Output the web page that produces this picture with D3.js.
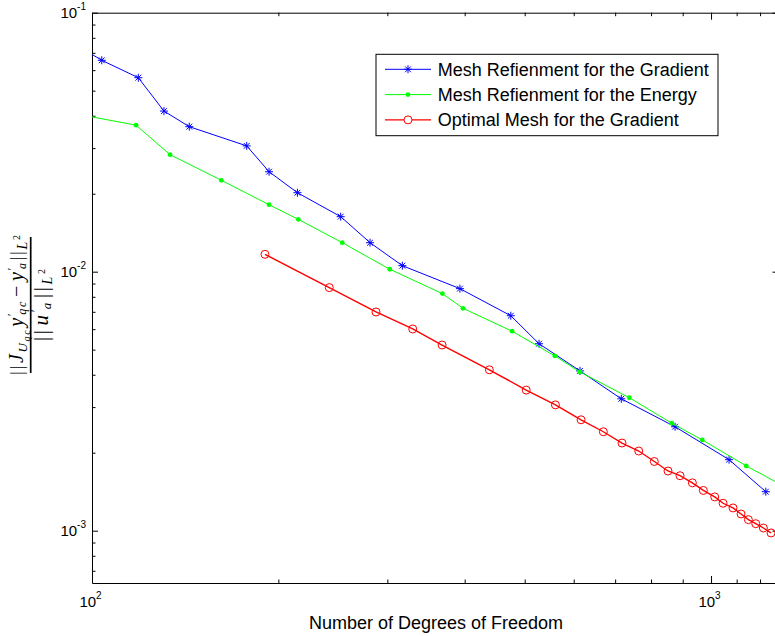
<!DOCTYPE html>
<html>
<head>
<meta charset="utf-8">
<script src="https://cdn.jsdelivr.net/npm/d3@7"></script>
<style>
  body { margin: 0; background: #fff; }
  svg { display: block; }
</style>
</head>
<body>
<div id="plot"></div>
<script>
// Values (degrees of freedom vs. relative error)
const gradDofs = [95, 103.7, 118.8, 130.7, 143.6, 177.8, 193.2, 214.7, 252.2, 281.3, 317.2, 393.0, 474.8, 527.4, 614.2, 716.2, 874.7, 1069.3, 1226];
const gradErr = [0.0743, 0.0655, 0.0561, 0.0417, 0.0363, 0.0306, 0.02432, 0.02018, 0.01631, 0.01294, 0.01055, 0.0086, 0.00676, 0.00527, 0.00414, 0.00323, 0.00252, 0.00188, 0.001414];

const energyDofs = [95, 117.8, 133.7, 161.8, 193.2, 215.4, 253.7, 302.7, 368.1, 397.5, 477.1, 559.3, 614.2, 738, 864.2, 968, 1140, 1350];
const energyErr = [0.0405, 0.0368, 0.0283, 0.02254, 0.01814, 0.01593, 0.01294, 0.01022, 0.00823, 0.00722, 0.00589, 0.00473, 0.0041, 0.00326, 0.0026, 0.00224, 0.001778, 0.00143];

const optDofs = [190.3, 241.7, 287.6, 329.7, 367.7, 438.4, 502.8, 560.6, 616.6, 669.9, 718.1, 764.2, 809.8, 852.1, 891.1, 932.9, 971.8, 1013.8, 1045.7, 1085.2, 1118.1, 1149, 1181, 1215, 1250];
const optErr = [0.01167, 0.00868, 0.00699, 0.00601, 0.00521, 0.00418, 0.00349, 0.00306, 0.00268, 0.00241, 0.00218, 0.00203, 0.00185, 0.0017, 0.00163, 0.00153, 0.00143, 0.00135, 0.001276, 0.001224, 0.00116, 0.001103, 0.001064, 0.001024, 0.00098];

const seriesNames = ["Mesh Refienment for the Gradient", "Mesh Refienment for the Energy", "Optimal Mesh for the Gradient"];

// Ticks
const xMajor = [100, 1000];
const xMajorExp = ["2", "3"];
const xMinor = [200, 300, 400, 500, 600, 700, 800, 900, 1100, 1200];
const yMajor = [0.1, 0.01, 0.001];
const yMajorExp = ["-1", "-2", "-3"];
const yMinor = [0.0007, 0.0008, 0.0009, 0.002, 0.003, 0.004, 0.005, 0.006, 0.007, 0.008, 0.009,
                0.02, 0.03, 0.04, 0.05, 0.06, 0.07, 0.08, 0.09];

const xTitle = "Number of Degrees of Freedom";

// Layout
const w = 775, h = 636;
const pLeft = 92, pRight = 779.5, pTop = 12.7, pBottom = 583;
const sansFont = "'Liberation Sans', Arial, Helvetica, sans-serif";
const serifFont = "'Liberation Serif', 'DejaVu Serif', 'Times New Roman', serif";

const svg = d3.select("#plot").append("svg")
  .attr("width", w)
  .attr("height", h);

svg.append("rect").attr("width", w).attr("height", h).attr("fill", "#fff");

// Scales
const x = d3.scaleLog().domain([100, 1290]).range([pLeft, pRight]);
const y = d3.scaleLog().domain([6.28e-4, 0.1]).range([pBottom, pTop]);

// Axes (ticks point inward, mirrored on top/right)
function styleAxis(sel) {
  sel.selectAll("path, line").attr("stroke", "#000").attr("stroke-width", 1);
  sel.selectAll("text").remove();
}

svg.append("g").attr("transform", `translate(0,${pBottom})`)
  .call(d3.axisBottom(x).tickValues(xMajor).tickSize(-7).tickSizeOuter(0).tickFormat(() => ""))
  .call(styleAxis);
svg.append("g").attr("transform", `translate(0,${pBottom})`)
  .call(d3.axisBottom(x).tickValues(xMinor).tickSize(-3.5).tickFormat(() => ""))
  .call(g => g.select(".domain").remove())
  .call(styleAxis);
svg.append("g").attr("transform", `translate(0,${pTop})`)
  .call(d3.axisTop(x).tickValues(xMajor).tickSize(-7).tickSizeOuter(0).tickFormat(() => ""))
  .call(styleAxis);
svg.append("g").attr("transform", `translate(0,${pTop})`)
  .call(d3.axisTop(x).tickValues(xMinor).tickSize(-3.5).tickFormat(() => ""))
  .call(g => g.select(".domain").remove())
  .call(styleAxis);

svg.append("g").attr("transform", `translate(${pLeft},0)`)
  .call(d3.axisLeft(y).tickValues(yMajor).tickSize(-6).tickSizeOuter(0).tickFormat(() => ""))
  .call(styleAxis);
svg.append("g").attr("transform", `translate(${pLeft},0)`)
  .call(d3.axisLeft(y).tickValues(yMinor).tickSize(-3.5).tickFormat(() => ""))
  .call(g => g.select(".domain").remove())
  .call(styleAxis);
svg.append("g").attr("transform", `translate(${pRight},0)`)
  .call(d3.axisRight(y).tickValues(yMajor).tickSize(-7).tickSizeOuter(0).tickFormat(() => ""))
  .call(styleAxis);
svg.append("g").attr("transform", `translate(${pRight},0)`)
  .call(d3.axisRight(y).tickValues(yMinor).tickSize(-3.5).tickFormat(() => ""))
  .call(g => g.select(".domain").remove())
  .call(styleAxis);

// Tick labels 10^n
xMajor.forEach((v, i) => {
  const t = svg.append("text")
    .attr("x", x(v) - 1.5)
    .attr("y", 607)
    .attr("text-anchor", "middle")
    .attr("font-family", sansFont)
    .attr("font-size", 15)
    .attr("fill", "#000");
  t.append("tspan").text("10");
  t.append("tspan").attr("font-size", 10).attr("dy", -8).text(xMajorExp[i]);
});
yMajor.forEach((v, i) => {
  const t = svg.append("text")
    .attr("x", 86)
    .attr("y", y(v) + 5.5)
    .attr("text-anchor", "end")
    .attr("font-family", sansFont)
    .attr("font-size", 15)
    .attr("fill", "#000");
  t.append("tspan").text("10");
  t.append("tspan").attr("font-size", 10).attr("dy", -8).text(yMajorExp[i]);
});

// X title
svg.append("text")
  .attr("x", 436)
  .attr("y", 629)
  .attr("text-anchor", "middle")
  .attr("font-family", sansFont)
  .attr("font-size", 18)
  .attr("fill", "#000")
  .text(xTitle);

// Y label: ||J_{U_qc} y'_qc - y'_a||_{L^2} / ||u'_a||_{L^2}
const yl = svg.append("g").attr("transform", "translate(30.7,305) rotate(-90)");
yl.append("line").attr("x1", -68).attr("x2", 68).attr("stroke", "#000").attr("stroke-width", 1.7);

function mathText(parent, yPos, len, parts) {
  const t = parent.append("text")
    .attr("x", -len / 2).attr("y", yPos)
    .attr("textLength", len)
    .attr("lengthAdjust", "spacing")
    .attr("font-family", serifFont)
    .attr("fill", "#000");
  let cur = 0;
  parts.forEach(p => {
    const [txt, ital, size, off, dx] = p;
    t.append("tspan")
      .attr("font-size", size)
      .attr("font-style", ital ? "italic" : "normal")
      .attr("dy", off - cur)
      .attr("dx", dx || 0)
      .text(txt);
    cur = off;
  });
}
mathText(yl, -8, 140, [
  ["||", false, 19, 0],
  ["J", true, 20, 0, 1],
  ["U", true, 13, 4],
  ["qc", true, 10, 7],
  ["y", true, 20, 0, 2],
  ["\u2032", false, 13, -7],
  ["qc", true, 12, 3, -3],
  ["\u2212", false, 20, 0, 3],
  ["y", true, 20, 0, 3],
  ["\u2032", false, 13, -7],
  ["a", true, 12, 3, -3],
  ["||", false, 19, 0, 1],
  ["L", true, 14, 4],
  ["2", false, 10, -3]
]);
mathText(yl, 17, 72, [
  ["||", false, 20, 0],
  ["u", true, 21, 0, 2],
  ["\u2032", false, 14, -7],
  ["a", true, 13, 3, -3],
  ["||", false, 20, 0, 2],
  ["L", true, 14, 4],
  ["2", false, 10, -3]
]);

// Plot area clip
svg.append("clipPath").attr("id", "clip")
  .append("rect").attr("x", pLeft).attr("y", pTop)
  .attr("width", pRight - pLeft).attr("height", pBottom - pTop);
const plot = svg.append("g").attr("clip-path", "url(#clip)");

const line = d3.line().x(d => x(d[0])).y(d => y(d[1]));

const grad = d3.zip(gradDofs, gradErr);
const energy = d3.zip(energyDofs, energyErr);
const opt = d3.zip(optDofs, optErr);

const starPath = "M-4,0H4M0,-4V4M-2.9,-2.9L2.9,2.9M-2.9,2.9L2.9,-2.9";

// Gradient refinement (blue stars)
plot.append("path").datum(grad)
  .attr("fill", "none").attr("stroke", "#0000ff").attr("stroke-width", 1)
  .attr("d", line);
plot.selectAll(".star").data(grad).enter().append("path")
  .attr("class", "star")
  .attr("transform", d => `translate(${x(d[0])},${y(d[1])})`)
  .attr("d", starPath)
  .attr("stroke", "#0000ff").attr("stroke-width", 1).attr("fill", "none");

// Energy refinement (green dots)
plot.append("path").datum(energy)
  .attr("fill", "none").attr("stroke", "#00ff00").attr("stroke-width", 1)
  .attr("d", line);
plot.selectAll(".dot").data(energy).enter().append("circle")
  .attr("class", "dot")
  .attr("cx", d => x(d[0])).attr("cy", d => y(d[1]))
  .attr("r", 2.4).attr("fill", "#00ff00");

// Optimal mesh (red circles)
plot.append("path").datum(opt)
  .attr("fill", "none").attr("stroke", "#ff0000").attr("stroke-width", 1.4)
  .attr("d", line);
plot.selectAll(".ring").data(opt).enter().append("circle")
  .attr("class", "ring")
  .attr("cx", d => x(d[0])).attr("cy", d => y(d[1]))
  .attr("r", 4).attr("fill", "none")
  .attr("stroke", "#ff0000").attr("stroke-width", 1);

// Legend
const lg = svg.append("g").attr("transform", "translate(376,54.3)");
lg.append("rect").attr("width", 342).attr("height", 81.4)
  .attr("fill", "#fff").attr("stroke", "#000").attr("stroke-width", 1);
const colors = ["#0000ff", "#00ff00", "#ff0000"];
seriesNames.forEach((name, i) => {
  const cy = 15 + i * 25.3;
  const row = lg.append("g").attr("transform", `translate(0,${cy})`);
  row.append("line").attr("x1", 9).attr("x2", 55)
    .attr("stroke", colors[i]).attr("stroke-width", i === 2 ? 1.4 : 1);
  if (i === 0) {
    row.append("path").attr("transform", "translate(32,0)").attr("d", starPath)
      .attr("stroke", colors[i]).attr("fill", "none");
  } else if (i === 1) {
    row.append("circle").attr("cx", 32).attr("r", 2.4).attr("fill", colors[i]);
  } else {
    row.append("circle").attr("cx", 32).attr("r", 4).attr("fill", "#fff").attr("stroke", colors[i]);
  }
  row.append("text").attr("x", 61.7).attr("y", 6.5)
    .attr("font-family", sansFont).attr("font-size", 18).attr("fill", "#000")
    .text(name);
});
</script>
</body>
</html>
